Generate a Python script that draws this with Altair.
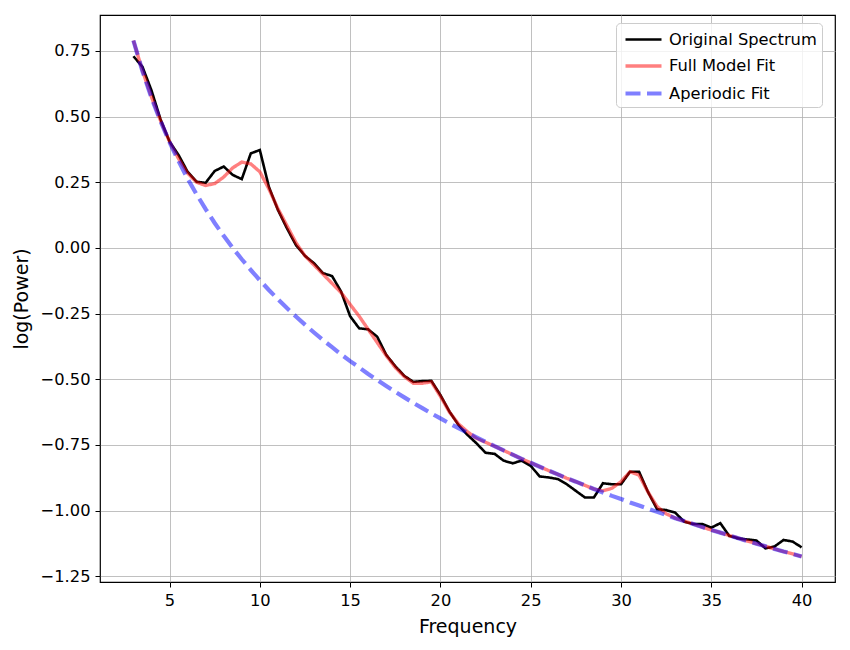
import altair as alt
import pandas as pd

freqs = [3 + 0.5 * i for i in range(75)]

original = [
    0.73, 0.69, 0.60, 0.49, 0.405, 0.354, 0.29, 0.252, 0.248, 0.293,
    0.31, 0.278, 0.262, 0.36, 0.373, 0.233, 0.145, 0.075, 0.011, -0.03,
    -0.058, -0.096, -0.107, -0.166, -0.26, -0.306, -0.31, -0.338, -0.407, -0.45,
    -0.487, -0.51, -0.507, -0.506, -0.56, -0.623, -0.674, -0.712, -0.744, -0.78,
    -0.784, -0.81, -0.82, -0.81, -0.83, -0.87, -0.874, -0.88, -0.9, -0.925,
    -0.95, -0.95, -0.896, -0.9, -0.9, -0.852, -0.852, -0.93, -0.995, -0.998,
    -1.008, -1.042, -1.051, -1.051, -1.065, -1.048, -1.097, -1.106, -1.11, -1.114,
    -1.144, -1.137, -1.112, -1.118, -1.14,
]

full_fit = [
    0.79, 0.675, 0.575, 0.485, 0.405, 0.34, 0.285, 0.25, 0.238, 0.245,
    0.27, 0.305, 0.327, 0.32, 0.29, 0.225, 0.15, 0.085, 0.02, -0.03,
    -0.065, -0.1, -0.135, -0.17, -0.215, -0.26, -0.31, -0.36, -0.41, -0.455,
    -0.49, -0.515, -0.515, -0.51, -0.565, -0.625, -0.67, -0.7, -0.725, -0.74,
    -0.755, -0.771, -0.787, -0.803, -0.818, -0.833, -0.848, -0.862, -0.877, -0.89,
    -0.904, -0.918, -0.925, -0.915, -0.89, -0.852, -0.865, -0.93, -0.985, -1.012,
    -1.029, -1.04, -1.051, -1.063, -1.074, -1.084, -1.095, -1.105, -1.116, -1.126,
    -1.136, -1.146, -1.156, -1.165, -1.175,
]

aperiodic = [
    0.79, 0.673, 0.572, 0.483, 0.403, 0.331, 0.264, 0.204, 0.148, 0.095,
    0.046, 0.0, -0.043, -0.084, -0.123, -0.16, -0.195, -0.229, -0.261, -0.292,
    -0.322, -0.351, -0.378, -0.405, -0.431, -0.455, -0.48, -0.503, -0.526, -0.548,
    -0.569, -0.59, -0.61, -0.63, -0.649, -0.668, -0.686, -0.704, -0.721, -0.738,
    -0.755, -0.771, -0.787, -0.803, -0.818, -0.833, -0.848, -0.862, -0.877, -0.89,
    -0.904, -0.918, -0.931, -0.944, -0.956, -0.969, -0.981, -0.993, -1.005, -1.017,
    -1.029, -1.04, -1.051, -1.063, -1.074, -1.084, -1.095, -1.105, -1.116, -1.126,
    -1.136, -1.146, -1.156, -1.165, -1.175,
]

series_names = ["Original Spectrum", "Full Model Fit", "Aperiodic Fit"]
x_ticks = [5, 10, 15, 20, 25, 30, 35, 40]
y_ticks = [-1.25, -1.0, -0.75, -0.5, -0.25, 0.0, 0.25, 0.5, 0.75]

font = "DejaVu Sans"


def frame(values, name):
    return pd.DataFrame({"Frequency": freqs, "Power": values, "series": name})


color_scale = alt.Scale(
    domain=series_names,
    range=["black", "rgba(255,0,0,0.5)", "rgba(0,0,255,0.5)"],
)
dash_scale = alt.Scale(domain=series_names, range=[[1, 0], [1, 0], [15, 6.5]])
width_scale = alt.Scale(domain=series_names, range=[2.6, 4.2, 4.0])

legend = alt.Legend(
    title=None,
    orient="none",
    legendX=516,
    legendY=8,
    symbolType="M-1,0H2.6",
    symbolSize=400,
    symbolOffset=2,
    labelFont=font,
    labelFontSize=16.3,
    labelColor="black",
    labelOffset=21,
    rowPadding=6.0,
    padding=5,
    fillColor="rgba(255,255,255,0.8)",
    strokeColor="#cccccc",
    cornerRadius=4,
)

axis_common = dict(
    titleFont=font,
    titleFontSize=19,
    titleFontWeight="normal",
    titleColor="black",
    titlePadding=9,
    labelFont=font,
    labelFontSize=16.3,
    labelColor="black",
    labelPadding=5,
    tickSize=5,
    tickColor="black",
    domain=False,
    gridColor="#b0b0b0",
    gridWidth=0.8,
)

x_enc = alt.X(
    "Frequency:Q",
    scale=alt.Scale(domain=[1.15, 41.85], nice=False, zero=False),
    axis=alt.Axis(values=x_ticks, format="d", title="Frequency", **axis_common),
)
y_enc = alt.Y(
    "Power:Q",
    scale=alt.Scale(domain=[-1.272, 0.887], nice=False, zero=False),
    axis=alt.Axis(values=y_ticks, format=".2f", title="log(Power)", **axis_common),
)


def layer(values, name):
    return (
        alt.Chart(frame(values, name))
        .mark_line()
        .encode(
            x=x_enc,
            y=y_enc,
            color=alt.Color("series:N", scale=color_scale, legend=legend),
            strokeDash=alt.StrokeDash("series:N", scale=dash_scale, legend=legend),
            strokeWidth=alt.StrokeWidth("series:N", scale=width_scale, legend=legend),
        )
    )


chart = (
    alt.layer(
        layer(original, series_names[0]),
        layer(full_fit, series_names[1]),
        layer(aperiodic, series_names[2]),
    )
    .properties(
        width=735,
        height=567,
        autosize=alt.AutoSizeParams(type="none"),
        padding={"left": 100, "top": 15, "right": 15, "bottom": 68},
        background="white",
    )
    .configure_view(stroke="black", strokeWidth=1.2)
)

chart.save("out.html", embed_options={"renderer": "svg", "actions": False})
